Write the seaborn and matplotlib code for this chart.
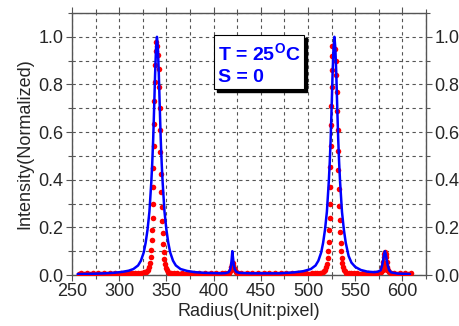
"""
Normalized intensity profile along the radius: measured points vs. fitted curve.
"""

import matplotlib.pyplot as plt
import matplotlib.patches as mpatches
import seaborn as sns
from matplotlib.ticker import MultipleLocator

# ---- fitted curve (blue line) ----
fit_radius = [
    256, 265, 275, 285, 295, 303, 310, 315, 320, 323, 326, 328, 330, 332, 334,
    335, 336, 337, 338, 339, 340, 341, 342, 343, 344, 345, 346, 348, 350, 352,
    354, 357, 360, 365, 372, 380, 390, 400, 408, 413, 416, 417.5, 418.5, 419.2,
    419.8, 420.5, 421.3, 422.3, 424, 427, 432, 440, 455, 470, 485, 495, 503,
    508, 511, 514, 516, 518, 520, 522, 523, 524, 525, 526, 527, 528, 529, 530,
    531, 532, 533, 534, 536, 538, 540, 543, 546, 550, 556, 563, 570, 574, 577,
    578.5, 579.5, 580.5, 581.5, 582.5, 583.5, 584.5, 586, 588, 595, 602, 608,
]
fit_intensity = [
    0.004, 0.0045, 0.0055, 0.007, 0.0095, 0.013, 0.018, 0.025, 0.04, 0.06,
    0.095, 0.135, 0.19, 0.265, 0.39, 0.47, 0.57, 0.70, 0.84, 0.95, 1.0, 0.95,
    0.84, 0.70, 0.57, 0.47, 0.39, 0.265, 0.19, 0.135, 0.095, 0.06, 0.04, 0.025,
    0.017, 0.012, 0.009, 0.008, 0.007, 0.008, 0.012, 0.022, 0.04, 0.07, 0.10,
    0.075, 0.045, 0.025, 0.013, 0.009, 0.008, 0.007, 0.007, 0.007, 0.011,
    0.016, 0.025, 0.04, 0.06, 0.095, 0.135, 0.19, 0.265, 0.39, 0.47, 0.57,
    0.70, 0.84, 0.95, 1.0, 0.95, 0.84, 0.70, 0.57, 0.47, 0.39, 0.265, 0.19,
    0.135, 0.08, 0.052, 0.034, 0.021, 0.014, 0.012, 0.014, 0.02, 0.04, 0.06,
    0.085, 0.10, 0.085, 0.06, 0.04, 0.02, 0.011, 0.006, 0.005, 0.004,
]

# ---- measured points (red dots) ----
base_radius = [
    257, 260, 263, 266, 269, 272, 275, 278, 281, 284, 287, 290, 293, 296, 299,
    302, 305, 308, 311, 314, 317, 320, 323, 326,
    355, 358, 361, 364, 367, 370, 373, 376, 379, 382, 385, 388, 391, 394, 397,
    400, 403, 406, 409, 412, 415,
    426, 429, 432, 435, 438, 441, 444, 447, 450, 453, 456, 459, 462, 465, 468,
    471, 474, 477, 480, 483, 486, 489, 492, 495, 498, 501, 504, 507, 510, 513,
    543, 546, 549, 552, 555, 558, 561, 564, 567, 570, 573,
    588, 591, 594, 597, 600, 603, 606, 609,
]
base_intensity = [
    0.006, 0.008, 0.006, 0.008, 0.006, 0.008, 0.006, 0.008, 0.006, 0.008,
    0.006, 0.008, 0.006, 0.008, 0.006, 0.008, 0.006, 0.008, 0.007, 0.009,
    0.008, 0.009, 0.010, 0.011,
    0.009, 0.008, 0.007, 0.006, 0.008, 0.006, 0.008, 0.006, 0.008, 0.006,
    0.008, 0.006, 0.008, 0.006, 0.008, 0.006, 0.008, 0.006, 0.008, 0.007,
    0.009,
    0.009, 0.007, 0.006, 0.008, 0.006, 0.008, 0.006, 0.008, 0.006, 0.008,
    0.006, 0.008, 0.006, 0.008, 0.006, 0.008, 0.006, 0.008, 0.006, 0.008,
    0.006, 0.008, 0.006, 0.008, 0.007, 0.006, 0.008, 0.008, 0.009, 0.010,
    0.010, 0.008, 0.007, 0.008, 0.006, 0.008, 0.006, 0.008, 0.006, 0.008,
    0.009,
    0.009, 0.007, 0.006, 0.008, 0.006, 0.008, 0.006, 0.008,
]

peak1_radius = [
    338.7, 338.9, 338.4, 337.7, 337.3, 336.9, 336.5, 336.1, 335.9, 335.7,
    335.5, 335.2, 334.6, 334.0, 333.3, 332.6, 331.8, 330.8, 329.5, 328.0,
    340.4, 341.2, 341.8, 342.4, 342.8, 343.3, 343.7, 344.1, 344.6, 345.0,
    345.5, 346.0, 346.6, 347.2, 347.8, 348.5, 349.3, 350.3, 351.5, 353.0,
]
peak1_intensity = [
    0.98, 0.94, 0.88, 0.81, 0.73, 0.635, 0.54, 0.45, 0.37, 0.30,
    0.24, 0.19, 0.145, 0.105, 0.075, 0.05, 0.035, 0.022, 0.015, 0.011,
    0.96, 0.925, 0.865, 0.79, 0.70, 0.61, 0.515, 0.425, 0.35, 0.285,
    0.225, 0.175, 0.13, 0.095, 0.068, 0.046, 0.03, 0.02, 0.013, 0.009,
]

peak2_radius = [
    525.7, 525.5, 525.2, 524.9, 524.6, 524.2, 523.9, 523.6, 523.4, 523.2,
    523.0, 522.7, 522.2, 521.6, 521.0, 520.3, 519.5, 518.5, 517.3, 516.0,
    528.6, 529.3, 529.9, 530.4, 530.9, 531.3, 531.8, 532.2, 532.7, 533.1,
    533.6, 534.1, 534.6, 535.1, 535.7, 536.3, 537.0, 538.0, 539.2, 540.5,
]
peak2_intensity = [
    0.96, 0.92, 0.86, 0.79, 0.71, 0.63, 0.54, 0.455, 0.37, 0.30,
    0.24, 0.19, 0.14, 0.10, 0.07, 0.048, 0.033, 0.022, 0.015, 0.011,
    0.95, 0.90, 0.84, 0.77, 0.69, 0.61, 0.52, 0.44, 0.36, 0.29,
    0.23, 0.18, 0.135, 0.10, 0.07, 0.05, 0.034, 0.023, 0.015, 0.01,
]

peak3_radius = [416.0, 417.0, 418.0, 418.8, 419.5, 420.2, 421.0, 421.8, 422.6, 423.5, 424.5]
peak3_intensity = [0.01, 0.015, 0.022, 0.032, 0.045, 0.05, 0.04, 0.028, 0.019, 0.013, 0.009]

peak4_radius = [
    577.0, 578.0, 578.8, 579.5, 580.2, 580.8, 581.5, 582.2, 582.8, 583.5,
    584.2, 585.0, 586.0, 579.0, 580.0, 581.0, 582.0, 583.0, 584.0,
]
peak4_intensity = [
    0.012, 0.02, 0.035, 0.055, 0.075, 0.09, 0.095, 0.09, 0.075, 0.055,
    0.035, 0.02, 0.012, 0.02, 0.03, 0.04, 0.04, 0.03, 0.02,
]

meas_radius = base_radius + peak1_radius + peak2_radius + peak3_radius + peak4_radius
meas_intensity = base_intensity + peak1_intensity + peak2_intensity + peak3_intensity + peak4_intensity

# ---- style ----
sns.set_style("ticks")
plt.rcParams["font.family"] = ["Liberation Sans", "DejaVu Sans"]
plt.rcParams["mathtext.fontset"] = "custom"
plt.rcParams["mathtext.rm"] = "Liberation Sans"
plt.rcParams["mathtext.bf"] = "Liberation Sans:bold"

fig = plt.figure(figsize=(4.6, 3.26), dpi=100)
ax = fig.add_axes([72 / 460, 1 - 275 / 326, 354 / 460, 262 / 326])

sns.scatterplot(
    x=meas_radius, y=meas_intensity, color="#ff0000", s=16,
    linewidth=0, ax=ax, zorder=3,
)
sns.lineplot(
    x=fit_radius, y=fit_intensity, color="#0000ff", linewidth=1.8,
    ax=ax, zorder=4,
)

ax.set_xlim(250, 625)
ax.set_ylim(0, 1.1)
ax.xaxis.set_minor_locator(MultipleLocator(25))
ax.yaxis.set_minor_locator(MultipleLocator(0.1))
ax.set_xticks([250, 300, 350, 400, 450, 500, 550, 600])
ax.set_yticks([0.0, 0.2, 0.4, 0.6, 0.8, 1.0])
ax.yaxis.set_major_formatter(plt.FuncFormatter(lambda v, p: f"{v:.1f}"))

ax.grid(which="both", color="#555555", linestyle=(0, (3, 3)), linewidth=0.8)
ax.tick_params(which="both", direction="out", top=True, right=True,
               labelright=True, color="#555555", width=0.8)
ax.tick_params(which="major", length=4, labelsize=13, pad=2)
ax.tick_params(which="minor", length=3)
for sp in ax.spines.values():
    sp.set_color("#555555")
    sp.set_linewidth(1.0)

ax.set_xlabel("Radius(Unit:pixel)", fontsize=13, labelpad=2)
ax.set_ylabel("Intensity(Normalized)", fontsize=13, labelpad=4)

# ---- annotation box with drop shadow ----
bx, by, bw, bh = 214 / 460, 1 - 89 / 326, 90 / 460, 54 / 326
fig.patches.append(mpatches.Rectangle(
    (bx + 3 / 460, by - 3 / 326), bw, bh, transform=fig.transFigure,
    facecolor="black", edgecolor="black", zorder=5))
fig.patches.append(mpatches.Rectangle(
    (bx, by), bw, bh, transform=fig.transFigure,
    facecolor="white", edgecolor="black", linewidth=0.8, zorder=6))
fig.text(218 / 460, 1 - 54 / 326, r"T = 25$^{\mathbf{O}}$C", color="#0000ff",
         fontsize=14, fontweight="bold", va="center", ha="left", zorder=7)
fig.text(218 / 460, 1 - 78 / 326, "S = 0", color="#0000ff",
         fontsize=14, fontweight="bold", va="center", ha="left", zorder=7)

plt.savefig("out.png", dpi=100)
